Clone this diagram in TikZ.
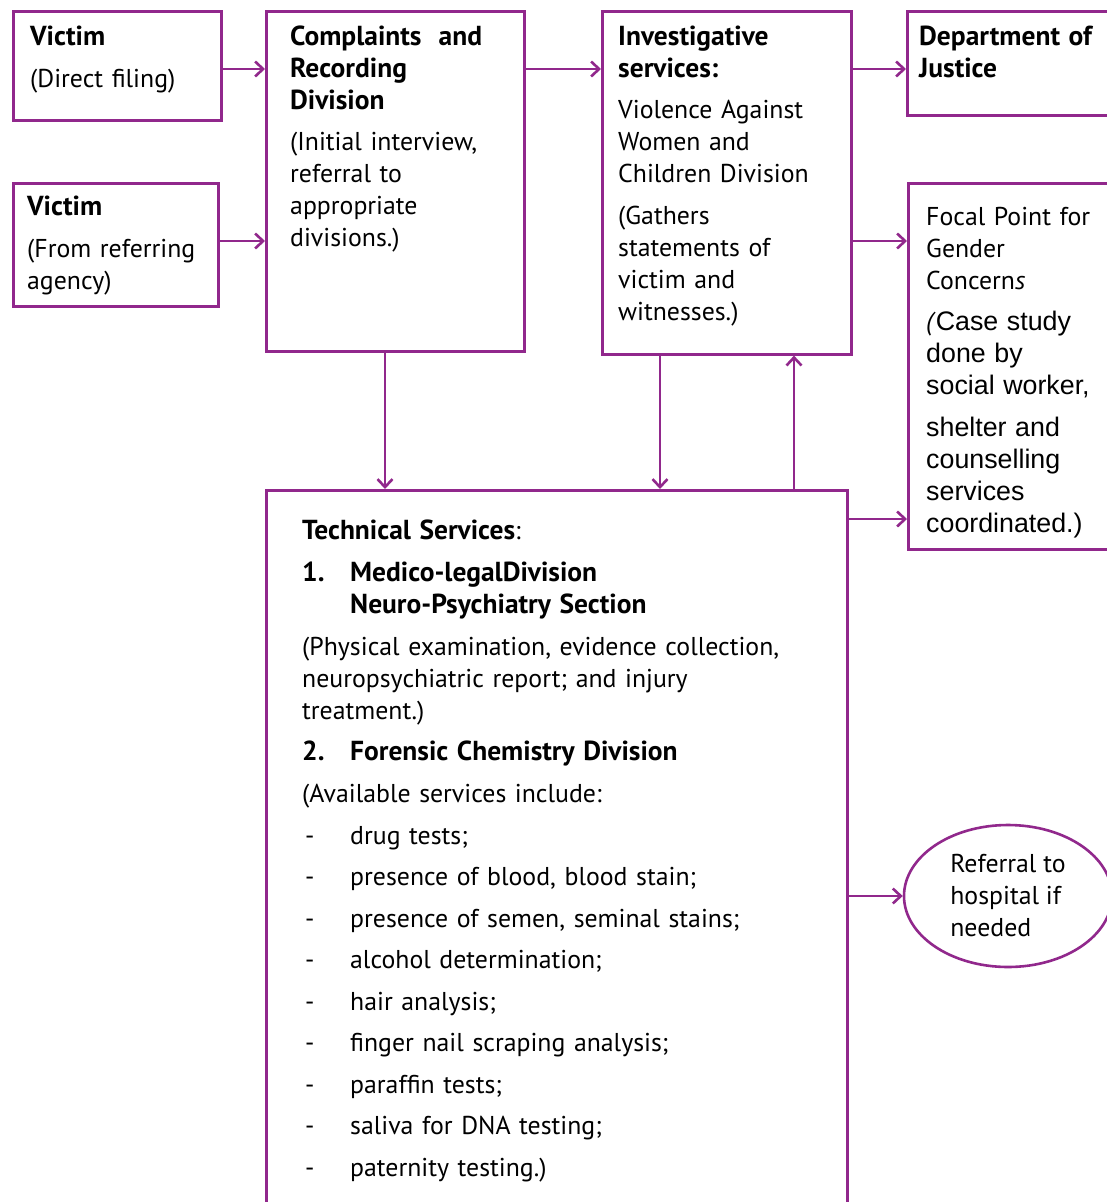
\documentclass[tikz,border=0pt]{standalone}
\usepackage{fontspec}
\setmainfont[BoldFeatures={Scale=1.065}]{PT Sans}
\newfontfamily\helvfont{Liberation Sans}
\usetikzlibrary{arrows.meta,shapes.geometric}
\definecolor{flowpurple}{RGB}{145,40,140}
\tikzset{
% Boxes, oval and text blocks of the chart
box/.style={draw=flowpurple,line width=2.6pt,inner sep=0,anchor=north west},
oval/.style={ellipse,draw=flowpurple,line width=2.6pt,inner sep=0,align=left},
txt/.style={anchor=base west,align=left,inner sep=0,text width=560pt},
% Connectors
link/.style={draw=flowpurple,line width=2.6pt,-{Straight Barb[length=8pt,width=15pt]}}
}
% Dash items and numbered headings in the technical box
\newcommand{\dashitem}[1]{\makebox[48pt][l]{\hspace{3pt}-}#1}
\newcommand{\numitem}[2]{\makebox[48pt][l]{\textbf{#1}}\textbf{#2}}
\newcommand{\helv}[1]{{\helvfont\fontsize{26.8}{32}\selectfont #1}}

\begin{document}
\begin{tikzpicture}[x=1pt,y=-1pt,font=\fontsize{25.8}{32}\selectfont]
\clip (0,0) rectangle (1107,1202);
\fill[white] (0,0) rectangle (1107,1202);
% The boxes
\node[box,minimum width=208,minimum height=109] (vic1) at (12,10) {};
\node[box,minimum width=205,minimum height=123] (vic2) at (12,182) {};
\node[box,minimum width=258,minimum height=340] (cmp) at (265,10) {};
\node[box,minimum width=249,minimum height=343] (inv) at (601,10) {};
\node[box,minimum width=250,minimum height=104] (doj) at (906,10) {};
\node[box,minimum width=250,minimum height=366] (fpg) at (907,182) {};
\node[box,minimum width=581,minimum height=760] (tech) at (265,489) {};
\node[oval,minimum width=208,minimum height=142] (hosp) at (1008,896)
  {Referral to\\hospital if\\needed};
% The texts
\node[txt] (vic1t) at (30,45) {\textbf{Victim}\\[10pt](Direct filing)};
\node[txt] (vic2t) at (27,215) {\textbf{Victim}\\[10pt](From referring\\agency)};
\node[txt] (cmpt) at (290,45) {\textbf{Complaints\ \ and}\\\textbf{Recording}\\
  \textbf{Division}\\[9pt](Initial interview,\\referral to\\appropriate\\divisions.)};
\node[txt] (invt) at (618,45) {\textbf{Investigative}\\\textbf{services:}\\[9pt]
  Violence Against\\Women and\\Children Division\\[10pt](Gathers\\statements of\\
  victim and\\witnesses.)};
\node[txt] (dojt) at (919,45) {\textbf{Department of}\\\textbf{Justice}};
\node[txt] (fpgt) at (926,225) {Focal Point for\\Gender\\Concern\textit{s}\\[9pt]
  \textit{(}\helv{Case study}\\\helv{done by}\\\helv{social worker,}\\[10pt]
  \helv{shelter and}\\\helv{counselling}\\\helv{services}\\\helv{coordinated.)}};
\node[txt] (techt) at (302,539) {\textbf{Technical Services}:\\[10pt]
  \numitem{1.}{Medico-legalDivision}\\
  \hspace*{48pt}\textbf{Neuro-Psychiatry Section}\\[10pt]
  (Physical examination, evidence collection,\\
  neuropsychiatric report; and injury\\
  treatment.)\\[9pt]
  \numitem{2.}{Forensic Chemistry Division}\\[10pt]
  (Available services include:\\[10pt]
  \dashitem{drug tests;}\\[9.5pt]
  \dashitem{presence of blood, blood stain;}\\[9.5pt]
  \dashitem{presence of semen, seminal stains;}\\[9.5pt]
  \dashitem{alcohol determination;}\\[9.5pt]
  \dashitem{hair analysis;}\\[9.5pt]
  \dashitem{finger nail scraping analysis;}\\[9.5pt]
  \dashitem{paraffin tests;}\\[9.5pt]
  \dashitem{saliva for DNA testing;}\\[9.5pt]
  \dashitem{paternity testing.)}};
% The connectors
\draw[link] (vic1.east |- 0,69) -- (cmp.west |- 0,69);
\draw[link] (vic2.east |- 0,241) -- (cmp.west |- 0,241);
\draw[link] (cmp.east |- 0,69) -- (inv.west |- 0,69);
\draw[link] (inv.east |- 0,69) -- (doj.west |- 0,69);
\draw[link] (inv.east |- 0,241) -- (fpg.west |- 0,241);
\draw[link] (cmp.south -| 385,0) -- (tech.north -| 385,0);
\draw[link] (inv.south -| 660,0) -- (tech.north -| 660,0);
\draw[link] (tech.north -| 794,0) -- (inv.south -| 794,0);
\draw[link] (tech.east |- 0,519) -- (fpg.west |- 0,519);
\draw[link] (tech.east |- hosp.west) -- (hosp.west);
\end{tikzpicture}
\end{document}
